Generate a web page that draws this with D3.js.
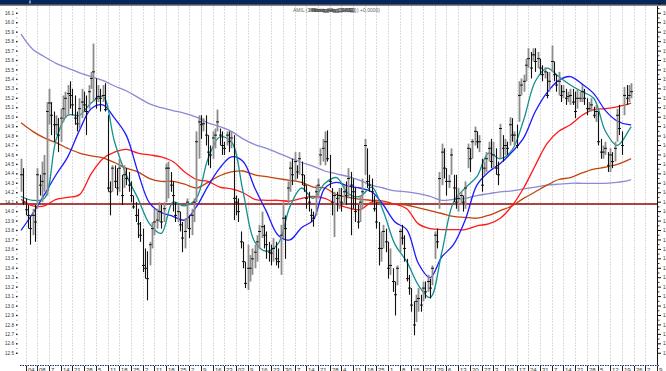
<!DOCTYPE html>
<html>
<head>
<meta charset="utf-8">
<script src="https://cdn.jsdelivr.net/npm/d3@7"></script>
<style>
  html, body { margin: 0; padding: 0; background: #fff; }
  svg { display: block; font-family: "Liberation Sans", Arial, sans-serif; }
</style>
</head>
<body>
<svg id="chart" width="666" height="371"></svg>
<script>
// Daily high / low / close
const highs = [
  14.56,14.46,14.14,14.07,13.96,14.03,14.07,14.46,14.39,14.53,
  14.60,15.16,15.30,15.16,15.06,15.02,14.99,15.09,15.23,15.27,
  15.34,15.38,15.30,15.23,15.06,15.20,15.30,15.27,15.23,15.34,
  15.48,15.78,15.41,15.34,15.30,15.34,15.36,15.02,14.32,14.49,
  14.49,14.46,14.56,14.39,14.49,14.46,14.42,14.32,14.17,14.10,
  14.03,13.89,13.82,13.61,13.58,13.68,13.89,14.03,14.03,14.10,
  14.07,14.10,14.51,14.53,
  14.42,14.32,14.10,14.07,14.00,13.89,
  13.93,14.14,13.96,14.03,14.14,14.85,15.02,15.02,14.99,15.02,
  14.81,14.70,14.85,14.88,15.08,14.88,14.85,14.74,14.85,14.85,
  14.85,14.81,14.17,14.14,13.79,13.68,13.47,13.65,13.54,13.61,
  13.65,13.75,13.86,14.00,13.86,13.79,13.68,13.65,13.72,13.68,
  13.61,13.86,14.10,13.96,14.32,14.53,14.56,14.63,14.49,14.63,
  14.53,14.39,14.28,14.21,14.03,14.00,14.28,14.35,14.67,14.77,
  14.85,
  14.86,14.60,14.25,14.21,14.21,14.25,14.25,14.28,14.32,
  14.46,14.42,14.35,14.25,14.07,14.17,14.35,14.77,14.67,14.39,
  14.35,14.17,14.10,13.89,13.79,13.86,13.82,13.68,13.61,13.40,
  13.26,13.43,13.82,13.86,13.75,13.50,13.33,13.19,13.05,13.12,
  13.19,13.12,13.26,13.26,13.33,13.29,13.43,13.79,13.82,14.42,
  14.72,14.67,14.46,14.39,14.67,14.39,14.39,14.25,14.21,14.17,
  14.32,14.72,14.67,14.77,14.90,14.85,14.81,
  14.56,14.53,14.63,
  14.74,14.77,14.74,14.67,14.53,14.93,14.81,14.77,14.74,15.00,
  14.99,14.85,14.92,15.38,15.41,15.45,15.62,15.73,15.69,15.73,
  15.73,15.69,15.62,15.55,15.53,15.48,15.48,15.76,15.59,15.45,
  15.48,15.34,15.34,15.30,15.27,15.30,15.30,15.27,15.30,15.27,
  15.34,15.30,15.20,15.16,15.20,15.11,15.13,15.06,14.77,14.70,
  14.74,14.63,14.67,14.63,14.74,15.09,15.13,14.85,15.32,15.34,
  15.34,15.36
];
const lows = [
  14.21,14.07,13.96,13.82,13.65,13.75,13.68,14.03,14.17,14.10,
  14.21,14.17,14.92,14.81,14.74,14.81,14.63,14.74,14.95,14.99,
  15.02,15.09,15.02,14.92,14.85,14.88,14.99,15.06,14.81,15.09,
  15.30,15.16,15.09,15.16,15.06,15.16,15.06,14.21,13.96,14.21,
  14.25,14.17,14.21,14.07,14.25,14.28,14.21,14.10,14.03,13.89,
  13.72,13.68,13.36,13.29,13.06,13.43,13.61,13.75,13.82,13.89,
  13.82,13.89,14.10,14.14,
  14.21,14.00,13.89,13.89,13.79,13.57,
  13.61,13.82,13.72,13.75,13.89,14.10,14.56,14.77,14.85,14.70,
  14.49,14.46,14.56,14.67,14.85,14.70,14.60,14.60,14.70,14.63,
  14.67,13.91,13.96,13.89,13.61,13.40,13.19,13.17,13.26,13.33,
  13.40,13.47,13.61,13.72,13.61,13.50,13.47,13.43,13.47,13.43,
  13.40,13.33,13.72,13.50,14.07,14.21,14.28,14.32,14.35,14.39,
  14.28,14.21,14.03,14.00,13.89,13.84,13.96,14.14,14.49,14.53,
  14.49,
  14.53,14.25,13.96,13.73,14.00,14.03,14.00,14.07,14.07,
  14.14,13.75,14.03,13.89,13.82,13.89,14.03,14.39,14.25,14.21,
  14.10,14.00,13.82,13.43,13.47,13.61,13.57,13.29,13.33,13.15,
  12.90,13.22,13.57,13.65,13.47,13.26,13.12,12.94,12.69,12.83,
  12.94,12.94,13.05,13.08,13.15,13.08,13.22,13.50,13.61,14.03,
  14.28,14.35,14.17,14.25,14.39,14.10,14.03,14.00,14.07,14.00,
  14.03,14.46,14.42,14.56,14.70,14.67,14.63,
  14.21,14.39,14.42,
  14.53,14.46,14.46,14.39,14.28,14.56,14.53,14.60,14.60,14.70,
  14.74,14.70,14.67,14.95,15.23,15.27,15.38,15.52,15.41,15.59,
  15.48,15.52,15.45,15.38,15.41,15.20,15.27,15.48,15.38,15.27,
  15.23,15.16,15.20,15.13,15.16,15.13,15.13,14.99,15.09,15.16,
  15.16,15.13,15.02,15.06,15.06,14.99,14.95,14.70,14.56,14.56,
  14.60,14.42,14.42,14.46,14.53,14.74,14.81,14.60,15.02,15.13,
  15.16,15.20
];
const closes = [
  14.39,14.10,14.02,13.96,13.82,13.96,13.89,14.39,14.28,14.32,
  14.40,15.06,15.15,15.02,14.92,14.92,14.81,14.99,15.09,15.20,
  15.25,15.23,15.13,14.99,14.93,15.09,15.16,15.13,15.06,15.27,
  15.41,15.48,15.20,15.22,15.20,15.23,15.08,14.25,14.21,14.46,
  14.32,14.25,14.46,14.17,14.39,14.35,14.28,14.17,14.05,13.96,
  13.87,13.75,13.43,13.40,13.29,13.65,13.82,13.89,13.91,14.00,
  13.89,14.03,14.46,14.46,
  14.28,14.17,13.96,14.00,13.86,13.72,
  13.79,14.10,13.82,13.96,14.10,14.74,14.95,14.92,14.93,14.81,
  14.63,14.60,14.78,14.81,14.95,14.81,14.70,14.67,14.81,14.74,
  14.78,14.14,14.10,14.00,13.68,13.47,13.24,13.40,13.40,13.50,
  13.57,13.68,13.79,13.84,13.75,13.65,13.57,13.56,13.61,13.50,
  13.47,13.75,13.93,13.82,14.25,14.46,14.39,14.53,14.42,14.56,
  14.39,14.28,14.14,14.10,13.96,13.93,14.21,14.28,14.60,14.67,
  14.74,
  14.56,14.32,14.10,14.17,14.14,14.17,14.10,14.21,14.17,
  14.35,14.28,14.21,14.00,13.89,14.10,14.21,14.70,14.32,14.28,
  14.21,14.03,13.89,13.61,13.61,13.79,13.68,13.40,13.43,13.26,
  13.12,13.40,13.79,13.72,13.61,13.29,13.19,13.01,12.80,13.05,
  13.08,13.01,13.19,13.15,13.26,13.19,13.40,13.75,13.68,14.35,
  14.63,14.46,14.32,14.32,14.60,14.25,14.10,14.14,14.17,14.10,
  14.25,14.67,14.56,14.74,14.85,14.74,14.74,
  14.28,14.46,14.56,
  14.67,14.53,14.60,14.46,14.39,14.88,14.67,14.70,14.67,14.92,
  14.81,14.81,14.70,15.23,15.34,15.38,15.55,15.62,15.52,15.66,
  15.59,15.62,15.52,15.45,15.48,15.23,15.38,15.59,15.45,15.34,
  15.38,15.23,15.27,15.20,15.22,15.23,15.16,15.06,15.20,15.20,
  15.27,15.20,15.09,15.09,15.13,15.02,15.06,14.74,14.63,14.63,
  14.67,14.49,14.60,14.53,14.67,15.02,14.88,14.70,15.23,15.20,
  15.23,15.27
];

// Moving averages, sampled at these bar indices
const maIndex = [0,5,10,15,20,25,30,35,40,45,50,55,60,65,70,75,80,85,90,95,
  100,105,110,115,120,125,130,135,140,145,150,155,160,165,170,175,180,185,190,195,
  200,205,210,215,220,225,230,235,240,245,250,255,260,261];
const maFast = [14.16,14.12,14.14,14.76,15.02,15.02,15.15,15.22,14.74,14.39,14.14,13.87,13.77,14.10,14.06,14.14,14.56,14.79,14.74,14.21,
  13.68,13.58,13.66,14.05,14.25,14.14,14.30,14.36,14.19,14.16,14.26,14.00,13.65,13.47,13.22,13.09,13.57,14.10,14.25,14.37,
  14.62,14.56,14.65,14.97,15.38,15.52,15.43,15.34,15.27,15.20,14.85,14.70,14.86,14.90];
const ma20 = [13.80,13.98,14.18,14.39,14.58,14.86,15.09,15.13,14.99,14.81,14.42,14.09,13.99,13.95,13.91,14.05,14.27,14.46,14.58,14.53,
  14.25,14.00,13.75,13.70,13.83,13.91,14.25,14.31,14.27,14.25,14.21,14.07,13.89,13.81,13.45,13.30,13.52,13.65,13.91,14.28,
  14.42,14.51,14.63,14.78,15.06,15.26,15.39,15.43,15.35,15.25,15.07,14.96,14.92,14.92];
const ma50 = [14.13,14.06,14.06,14.13,14.15,14.18,14.40,14.56,14.63,14.66,14.62,14.60,14.58,14.53,14.42,14.34,14.32,14.26,14.24,14.20,
  14.13,14.12,14.12,14.11,14.14,14.16,14.14,14.08,14.04,14.02,14.10,14.09,14.08,14.03,13.87,13.82,13.81,13.81,13.81,13.85,
  13.87,13.93,14.06,14.25,14.49,14.72,14.85,14.92,15.02,15.08,15.09,15.11,15.14,15.15];
const ma100 = [14.94,14.85,14.78,14.73,14.67,14.62,14.59,14.57,14.52,14.46,14.42,14.35,14.32,14.32,14.29,14.25,14.31,14.38,14.42,14.43,
  14.39,14.37,14.35,14.33,14.31,14.26,14.25,14.18,14.15,14.13,14.12,14.11,14.08,14.07,14.04,14.01,13.98,13.95,13.94,13.93,
  13.96,14.01,14.06,14.14,14.21,14.28,14.34,14.36,14.41,14.45,14.47,14.50,14.55,14.56];
const ma200 = [15.88,15.72,15.64,15.57,15.52,15.47,15.43,15.39,15.33,15.28,15.21,15.14,15.10,15.07,15.04,15.00,14.94,14.90,14.85,14.77,
  14.71,14.67,14.62,14.57,14.52,14.48,14.43,14.40,14.37,14.33,14.28,14.25,14.22,14.21,14.19,14.16,14.12,14.13,14.14,14.17,
  14.19,14.21,14.22,14.24,14.26,14.28,14.29,14.30,14.30,14.30,14.30,14.31,14.33,14.34];

const levelLine = 14.08;

// Weekly date labels along the bottom (one per grid line)
const weekLabels = ["04","08","7","14","21","28","5","11","18","25","2","11","18","25","2","9","16","23","02","9",
  "16","23","30","7","14","21","28","4","11","18","25","1","8","15","22","29","6","13","20","27",
  "3","10","17","24","31","7","14","21","28","5","12","19","26","2","9"];

const yTicks = d3.range(125, 162).map(v => v / 10);

if (highs.length !== lows.length || highs.length !== closes.length) {
  throw new Error("bar arrays differ: " + highs.length + " " + lows.length + " " + closes.length);
}
[maFast, ma20, ma50, ma100, ma200].forEach((a, k) => {
  if (a.length !== maIndex.length) throw new Error("ma " + k + " length " + a.length);
});

const W = 666, H = 371;
const svg = d3.select("#chart");

const x = d3.scaleLinear().domain([0, 272]).range([21, 656.9]);
const y = d3.scaleLinear().domain([12.4, 16.1]).range([362.7, 13.3]);

// header strip
svg.append("rect").attr("x", 0).attr("y", 0).attr("width", W).attr("height", 4.5).attr("fill", "#05265a");
svg.append("rect").attr("x", 0).attr("y", 4.5).attr("width", W).attr("height", 1).attr("fill", "#111");
svg.append("rect").attr("x", 29.5).attr("y", 0.5).attr("width", 1).attr("height", 3).attr("fill", "#fff");

// weekly vertical grid
const gridIdx = d3.range(2, 273, 5);
svg.append("g").selectAll("line").data(gridIdx).join("line")
  .attr("x1", d => Math.round(x(d)) + 0.5).attr("x2", d => Math.round(x(d)) + 0.5)
  .attr("y1", 6).attr("y2", 364)
  .attr("stroke", "#dcdcdc").attr("stroke-width", 1).attr("stroke-dasharray", "2,1");

// title (overlapping study captions)
const title = svg.append("g").attr("font-size", 5).attr("fill", "#666");
title.append("text").attr("x", 293).attr("y", 11.5).text("AMIL (1");
["Moving Avg (13,84)", "Moving Avg (14,11)", "Moving Avg (14,53)", "Moving Avg (14,92)"].forEach((t, k) => {
  title.append("text").attr("x", 309 + k * 1.5).attr("y", 11.5).attr("fill", "#444").text(t);
});
title.append("text").attr("x", 357).attr("y", 11.5).text(") +0,0000)");

// horizontal level
svg.append("line").attr("x1", 0).attr("x2", 657).attr("y1", y(levelLine)).attr("y2", y(levelLine))
  .attr("stroke", "#a84444").attr("stroke-width", 2);

// moving averages
const maLine = d3.line().x((d, k) => x(maIndex[k])).y(d => y(d)).curve(d3.curveCatmullRom.alpha(0.5));
const maDefs = [
  [ma200, "#8a8ad6"],
  [ma100, "#c0440c"],
  [ma50, "#ff1a1a"],
  [ma20, "#1a1aff"],
  [maFast, "#129090"]
];
maDefs.forEach(([vals, col]) => {
  svg.append("path").attr("d", maLine(vals)).attr("fill", "none")
    .attr("stroke", col).attr("stroke-width", 1.3);
});

// price bars
const bars = svg.append("g");
closes.forEach((c, i) => {
  const up = i === 0 ? true : c >= closes[i - 1];
  const cx = Math.round(x(i)) + 0.5;
  bars.append("line").attr("x1", cx).attr("x2", cx)
    .attr("y1", y(highs[i])).attr("y2", y(lows[i]))
    .attr("stroke", up ? "#8c8c8c" : "#111").attr("stroke-width", up ? 1.8 : 1.1);
  bars.append("line").attr("x1", cx - 1.5).attr("x2", cx + 1.5)
    .attr("y1", y(c)).attr("y2", y(c))
    .attr("stroke", "#111").attr("stroke-width", 1);
});

// left value axis
const left = svg.append("g").attr("font-size", 4.6).attr("fill", "#333");
yTicks.forEach(v => {
  left.append("text").attr("x", 14).attr("y", y(v) + 1.6).attr("text-anchor", "end").text(d3.format(".1f")(v));
  left.append("rect").attr("x", 16).attr("y", y(v) - 0.7).attr("width", 1.6).attr("height", 1.4).attr("fill", "#222");
  left.append("rect").attr("x", 16.5).attr("y", y(v + 0.05) - 0.4).attr("width", 0.8).attr("height", 0.8).attr("fill", "#444");
});

// right value axis
svg.append("line").attr("x1", 657.5).attr("x2", 657.5).attr("y1", 6).attr("y2", 365)
  .attr("stroke", "#111").attr("stroke-width", 1);
const right = svg.append("g").attr("font-size", 4.6).attr("fill", "#333");
yTicks.concat([16.2]).forEach(v => {
  right.append("line").attr("x1", 658).attr("x2", 661).attr("y1", y(v)).attr("y2", y(v)).attr("stroke", "#111");
  right.append("line").attr("x1", 658).attr("x2", 659.5).attr("y1", y(v + 0.05)).attr("y2", y(v + 0.05)).attr("stroke", "#333");
  right.append("text").attr("x", 663).attr("y", y(v) + 1.6).text(d3.format(".1f")(v));
});

// bottom time axis
svg.append("line").attr("x1", 20).attr("x2", 660).attr("y1", 365.5).attr("y2", 365.5)
  .attr("stroke", "#1a2a7a").attr("stroke-width", 1).attr("stroke-dasharray", "1.5,1");
const bottom = svg.append("g").attr("font-size", 6).attr("fill", "#333");
gridIdx.forEach((g, k) => {
  const gx = Math.round(x(g)) + 0.5;
  bottom.append("line").attr("x1", gx).attr("x2", gx).attr("y1", 366).attr("y2", 371).attr("stroke", "#222");
  if (weekLabels[k]) bottom.append("text").attr("x", gx + 1.5).attr("y", 372).text(weekLabels[k]);
});
</script>
</body>
</html>
